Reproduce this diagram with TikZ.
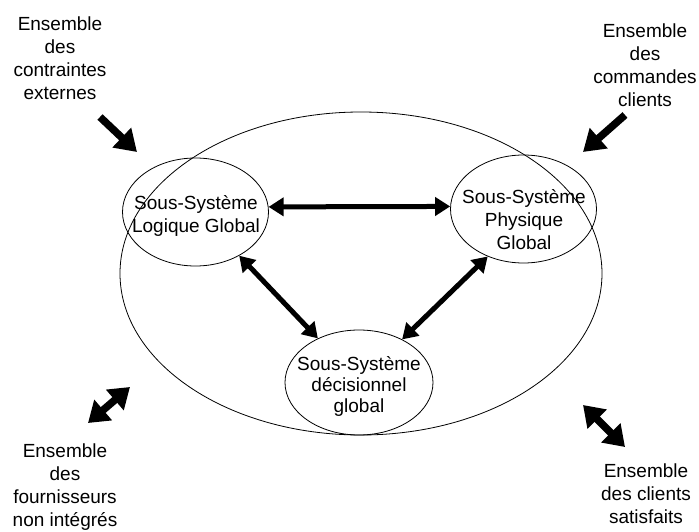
\documentclass[tikz,border=0pt]{standalone}
\usepackage{fontspec}
\setmainfont{Liberation Sans}
\usetikzlibrary{shapes.geometric,arrows.meta}

\tikzset{
  frame/.style={ellipse, draw, line width=0.8pt, inner sep=0pt},
  subsys/.style={ellipse, draw, line width=0.8pt, inner sep=0pt,
    minimum width=146pt, minimum height=108pt},
  txt/.style={align=center, inner sep=0pt,
    font=\fontsize{19pt}{23pt}\selectfont},
  link/.style={line width=5pt, {Triangle[length=15pt,width=18pt]}-{Triangle[length=15pt,width=18pt]}},
  flowin/.style={line width=7.5pt, -{Triangle[length=21pt,width=26pt]}},
  flowboth/.style={line width=7.5pt, {Triangle[length=20pt,width=26pt]}-{Triangle[length=20pt,width=26pt]}}
}

\begin{document}
\begin{tikzpicture}[x=1pt, y=-1pt]
  \useasboundingbox (0,0) rectangle (699,532);

  % enclosing system
  \node[frame, minimum width=482pt, minimum height=323pt] (big) at (361,273.5) {};

  % the three sub-systems
  \node[subsys] (L) at (195.5,212) {};
  \node[subsys] (R) at (523.5,209) {};
  \node[subsys, minimum width=148pt, minimum height=105pt] (D) at (359,382.5) {};

  \node[txt] (Lt) at (196,216) {Sous-Système\\Logique Global};
  \node[txt] (Rt) at (524,220) {Sous-Système\\Physique\\Global};
  \node[txt, font=\fontsize{19pt}{21pt}\selectfont] (Dt) at (359,386) {Sous-Système\\décisionnel\\global};

  % exchanges between sub-systems
  \draw[link] (L.4) -- (R.178);
  \draw[link] (L.-45) -- (D.133);
  \draw[link] (D.45) -- (R.-127);

  % environment
  \node[txt] (tl) at (60,58) {Ensemble\\des\\contraintes\\externes};
  \node[txt] (tr) at (645,65) {Ensemble\\des\\commandes\\clients};
  \node[txt] (bl) at (65,487) {Ensemble\\des\\fournisseurs\\non intégrés};
  \node[txt] (br) at (646,494) {Ensemble\\des clients\\satisfaits};

  \coordinate (tlA) at (100,117);
  \coordinate (tlB) at (137,152);
  \coordinate (trA) at (625,115);
  \coordinate (trB) at (583,152);
  \coordinate (blA) at (130,387);
  \coordinate (blB) at (88,423);
  \coordinate (brA) at (583,405);
  \coordinate (brB) at (625,447);

  \draw[flowin] (tlA) -- (tlB);
  \draw[flowin] (trA) -- (trB);
  \draw[flowboth] (blA) -- (blB);
  \draw[flowboth] (brA) -- (brB);
\end{tikzpicture}
\end{document}
